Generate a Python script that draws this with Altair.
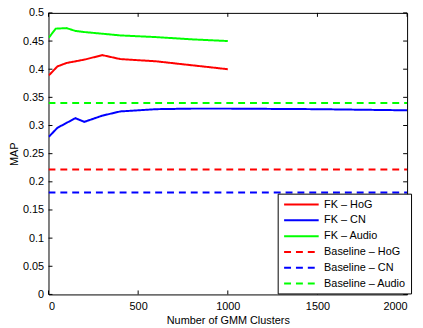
import altair as alt
import pandas as pd

# ---- data ----
series_names = ["FK – HoG", "FK – CN", "FK – Audio",
                "Baseline – HoG", "Baseline – CN", "Baseline – Audio"]
series_colors = ["#ff0000", "#0000ff", "#00ff00", "#ff0000", "#0000ff", "#00ff00"]

hog_x = [2, 50, 100, 200, 300, 400, 600, 800, 1000]
hog_y = [0.389, 0.405, 0.411, 0.417, 0.425, 0.418, 0.414, 0.407, 0.400]

cn_x = [2, 50, 150, 200, 300, 400, 600, 800, 1000, 1500, 2000]
cn_y = [0.280, 0.296, 0.313, 0.3065, 0.3175, 0.325, 0.329, 0.330, 0.330, 0.329, 0.327]

audio_x = [2, 40, 100, 150, 200, 300, 400, 600, 800, 1000]
audio_y = [0.456, 0.472, 0.473, 0.468, 0.466, 0.463, 0.460, 0.457, 0.453, 0.450]

baseline_x = [0, 2000]
baseline_hog = 0.222
baseline_cn = 0.181
baseline_audio = 0.340

x_ticks = [0, 500, 1000, 1500, 2000]
y_ticks = [0, 0.05, 0.1, 0.15, 0.2, 0.25, 0.3, 0.35, 0.4, 0.45, 0.5]

# ---- build table ----
rows = []
for xs, ys, name in [(hog_x, hog_y, series_names[0]),
                     (cn_x, cn_y, series_names[1]),
                     (audio_x, audio_y, series_names[2])]:
    for xv, yv in zip(xs, ys):
        rows.append({"series": name, "x": xv, "y": yv})
for val, name in [(baseline_hog, series_names[3]),
                  (baseline_cn, series_names[4]),
                  (baseline_audio, series_names[5])]:
    for xv in baseline_x:
        rows.append({"series": name, "x": xv, "y": val})
df = pd.DataFrame(rows)

W, H = 363, 285
FONT = "Liberation Sans"

dash_range = [[1, 0], [1, 0], [1, 0], [7, 5], [7, 5], [7, 5]]

legend = alt.Legend(
    title=None, orient="none", legendX=232, legendY=183,
    symbolType="M-3.5,0H3.5", symbolSize=100, symbolStrokeWidth=2,
    symbolFillColor="transparent",
    labelFont=FONT, labelFontSize=11, labelColor="black",
    fillColor="white", strokeColor="black", padding=5,
    rowPadding=5, labelOffset=17, symbolOffset=13,
)

x_scale = alt.Scale(domain=[0, 2000], nice=False, zero=False)
y_scale = alt.Scale(domain=[0, 0.5], nice=False)

axis_common = dict(ticks=False, domain=False, grid=False,
                   labelFont=FONT, labelFontSize=11, labelColor="black",
                   titleFont=FONT, titleFontSize=11, titleColor="black",
                   titleFontWeight="normal", labelOverlap=False)
x_axis = alt.Axis(values=x_ticks, title="Number of GMM Clusters",
                  labelPadding=6, titlePadding=3, format="d", **axis_common)
y_axis = alt.Axis(values=y_ticks, title="MAP",
                  labelPadding=5, titlePadding=3, format="~g", **axis_common)

lines = alt.Chart(df).mark_line(strokeWidth=2, clip=True).encode(
    x=alt.X("x:Q", scale=x_scale, axis=x_axis),
    y=alt.Y("y:Q", scale=y_scale, axis=y_axis),
    color=alt.Color("series:N", sort=series_names,
                    scale=alt.Scale(domain=series_names, range=series_colors),
                    legend=legend),
    strokeDash=alt.StrokeDash("series:N", sort=series_names,
                              scale=alt.Scale(domain=series_names, range=dash_range),
                              legend=legend),
    detail="series:N",
)

xt = pd.DataFrame({"x": x_ticks})
yt = pd.DataFrame({"y": y_ticks})
tk = dict(color="black", strokeWidth=1)
bottom_ticks = alt.Chart(xt).mark_rule(**tk).encode(
    x=alt.X("x:Q", scale=x_scale, axis=x_axis), y=alt.value(H), y2=alt.value(H - 4))
top_ticks = alt.Chart(xt).mark_rule(**tk).encode(
    x=alt.X("x:Q", scale=x_scale, axis=x_axis), y=alt.value(0), y2=alt.value(4))
left_ticks = alt.Chart(yt).mark_rule(**tk).encode(
    y=alt.Y("y:Q", scale=y_scale, axis=y_axis), x=alt.value(0), x2=alt.value(4))
right_ticks = alt.Chart(yt).mark_rule(**tk).encode(
    y=alt.Y("y:Q", scale=y_scale, axis=y_axis), x=alt.value(W), x2=alt.value(W - 4))

chart = alt.layer(lines, top_ticks, bottom_ticks, left_ticks, right_ticks).properties(
    width=W, height=H,
    background="white",
    autosize=alt.AutoSizeParams(type="none"),
    padding={"left": 41, "top": 3, "right": 8, "bottom": 30},
).configure_view(
    stroke="black", strokeWidth=1
)

chart.save("out.html", embed_options={"renderer": "svg", "actions": False})
